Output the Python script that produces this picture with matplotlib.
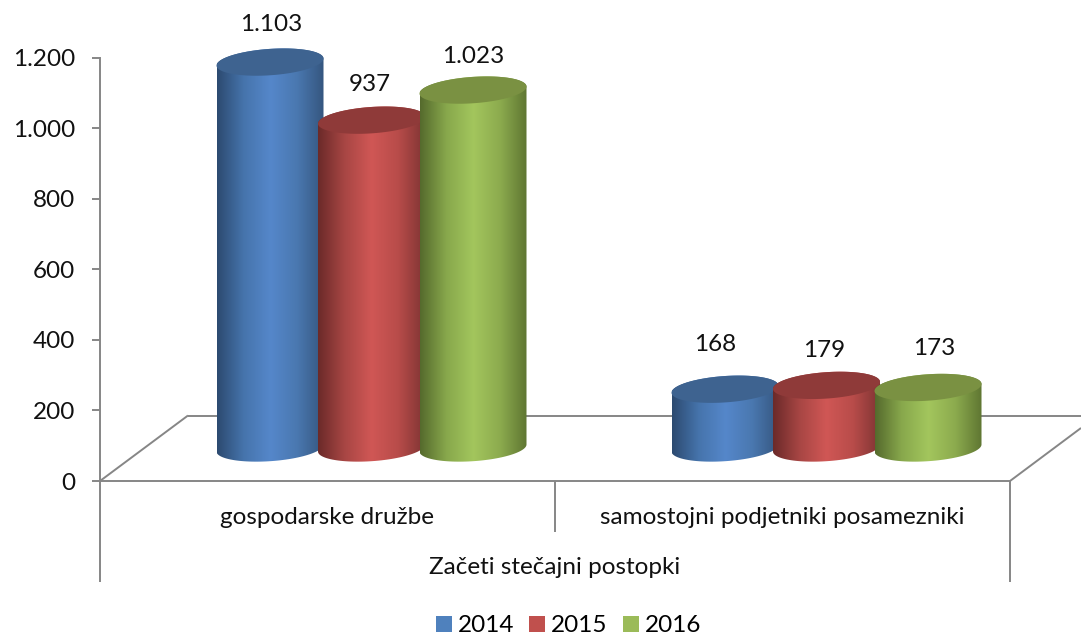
import numpy as np
import matplotlib
matplotlib.use("Agg")
import matplotlib.pyplot as plt
from matplotlib.colors import LinearSegmentedColormap
from matplotlib.patches import Patch, Polygon
from matplotlib.path import Path

plt.rcParams['font.family'] = ['Lato', 'DejaVu Sans']

# -------- Data --------
categories = ["gospodarske družbe", "samostojni podjetniki posamezniki"]
group_label = "Začeti stečajni postopki"
years = ["2014", "2015", "2016"]
values_2014 = [1103, 168]
values_2015 = [937, 179]
values_2016 = [1023, 173]
y_ticks = [0, 200, 400, 600, 800, 1000, 1200]

# -------- Layout (reference pixels) --------
W, H = 1081, 636
X0_PX, CAT_PX = 327.5, 455.0   # first category centre, width of one category
Y0_PX, UNIT_PX = 481.0, 0.3527  # value 0 and pixels per unit
DEPTH_X, DEPTH_Y = 88, 65.5    # floor depth
HEIGHT_SCALE = 0.992
TEXT = 17.5
GREY = "#868686"
INK = "#111111"

# label nudges in pixels, per series and category
nudge_x = [[1.5, -10], [-2, -2], [0.5, 6]]
nudge_y = [[38, 44.5], [36, 35], [34, 39]]

styles = [
    (["#2c4a70", "#4674ac", "#5587ca", "#4a78b0", "#35567f"], "#3e6390", "#4f81bd"),
    (["#6b2a29", "#a84644", "#d05755", "#b84c4a", "#7f3433"], "#8f3a39", "#c0504d"),
    (["#556a2d", "#88a84c", "#a3c65d", "#8cab4e", "#5f7632"], "#7a9142", "#9bbb59"),
]


def px_x(x):
    return (x - X0_PX) / CAT_PX


def px_y(y):
    return (Y0_PX - y) / UNIT_PX


def ring(cx, cy, t):
    # tilted ellipse, left side sits lower than the right one (all in pixels)
    a, b, tilt = 53.5, 13.2, 3.5
    x = cx + a * np.cos(t)
    y = cy + b * np.sin(t) - tilt * np.cos(t)
    return px_x(x), px_y(y)


def cylinder(ax, cx, value, ramp, top_color, z):
    cy_base = 448.0
    cy_top = cy_base - value * UNIT_PX * HEIGHT_SCALE
    # outline of the body: lower half of the base, upper half of the top
    xb, yb = ring(cx, cy_base, np.linspace(0, np.pi, 60))
    xt, yt = ring(cx, cy_top, np.linspace(np.pi, 2 * np.pi, 60))
    body = np.column_stack([np.r_[xb, xt], np.r_[yb, yt]])

    cmap = LinearSegmentedColormap.from_list("side", ramp)
    im = ax.imshow(np.linspace(0, 1, 256).reshape(1, -1), cmap=cmap, aspect="auto",
                   interpolation="bilinear", zorder=z,
                   extent=(px_x(cx - 53.5), px_x(cx + 53.5), px_y(cy_base + 20), px_y(cy_top - 20)))
    im.set_clip_path(Path(np.vstack([body, body[0]])), transform=ax.transData)

    xc, yc = ring(cx, cy_top, np.linspace(0, 2 * np.pi, 120))
    ax.add_patch(Polygon(np.column_stack([xc, yc]), closed=True, facecolor=top_color,
                         edgecolor="none", zorder=z + 0.5))
    return cy_top


# -------- Plot --------
fig = plt.figure(figsize=(W / 100, H / 100), dpi=100)
ax = fig.add_axes([0, 0, 1, 1])
ax.patch.set_alpha(0)

# floor and category separators
floor = dict(color=GREY, lw=1.4, zorder=1, solid_capstyle="butt")
ax.plot([px_x(100), px_x(100 + DEPTH_X)], [0, px_y(Y0_PX - DEPTH_Y)], **floor)
ax.plot([px_x(100 + DEPTH_X), px_x(W)], [px_y(Y0_PX - DEPTH_Y)] * 2, **floor)
ax.plot([px_x(1010), px_x(W)], [0, px_y(428)], **floor)
ax.plot([-0.5, -0.5], [0, px_y(582)], **floor)
ax.plot([0.5, 0.5], [0, px_y(532)], **floor)
ax.plot([1.5, 1.5], [0, px_y(582)], **floor)

series = [values_2014, values_2015, values_2016]
for c in range(len(categories)):
    centre = X0_PX + c * CAT_PX + DEPTH_X / 2
    for s, values in enumerate(series):
        ramp, top_color, _ = styles[s]
        cx = centre + (s - 1) * 101.5
        cy_top = cylinder(ax, cx, values[c], ramp, top_color, 3 + s)
        ax.text(px_x(cx + nudge_x[s][c]), px_y(cy_top - nudge_y[s][c]),
                f"{values[c]:,}".replace(",", "."), ha="center", va="center",
                fontsize=TEXT, color=INK, zorder=10)

ax.text(0.5, px_y(568), group_label, ha="center", va="center", fontsize=TEXT, color=INK)

ax.set_xlim(px_x(0), px_x(W))
ax.set_ylim(px_y(H), px_y(0))

for side in ("top", "right"):
    ax.spines[side].set_visible(False)
ax.spines["left"].set_position(("data", -0.5))
ax.spines["left"].set_bounds(0, 1200)
ax.spines["bottom"].set_position(("data", 0))
ax.spines["bottom"].set_bounds(-0.5, 1.5)
for side in ("left", "bottom"):
    ax.spines[side].set_color(GREY)
    ax.spines[side].set_linewidth(1.4)

ax.set_yticks(y_ticks)
ax.set_yticklabels([f"{v:,}".replace(",", ".") for v in y_ticks])
ax.tick_params(axis="y", length=5.8, width=1.4, color=GREY, pad=12, labelsize=TEXT, labelcolor=INK)
ax.set_xticks(range(len(categories)))
ax.set_xticklabels(categories)
ax.tick_params(axis="x", length=0, pad=18.5, labelsize=TEXT, labelcolor=INK)

handles = [Patch(facecolor=st[2], label=y) for st, y in zip(styles, years)]
ax.legend(handles=handles, ncol=3, frameon=False, fontsize=TEXT, loc="center",
          bbox_to_anchor=(568.5 / W, 1 - 626 / H), handlelength=0.65, handleheight=0.65,
          handletextpad=0.25, columnspacing=0.62, borderpad=0, borderaxespad=0)

fig.savefig("out.png", dpi=100)
